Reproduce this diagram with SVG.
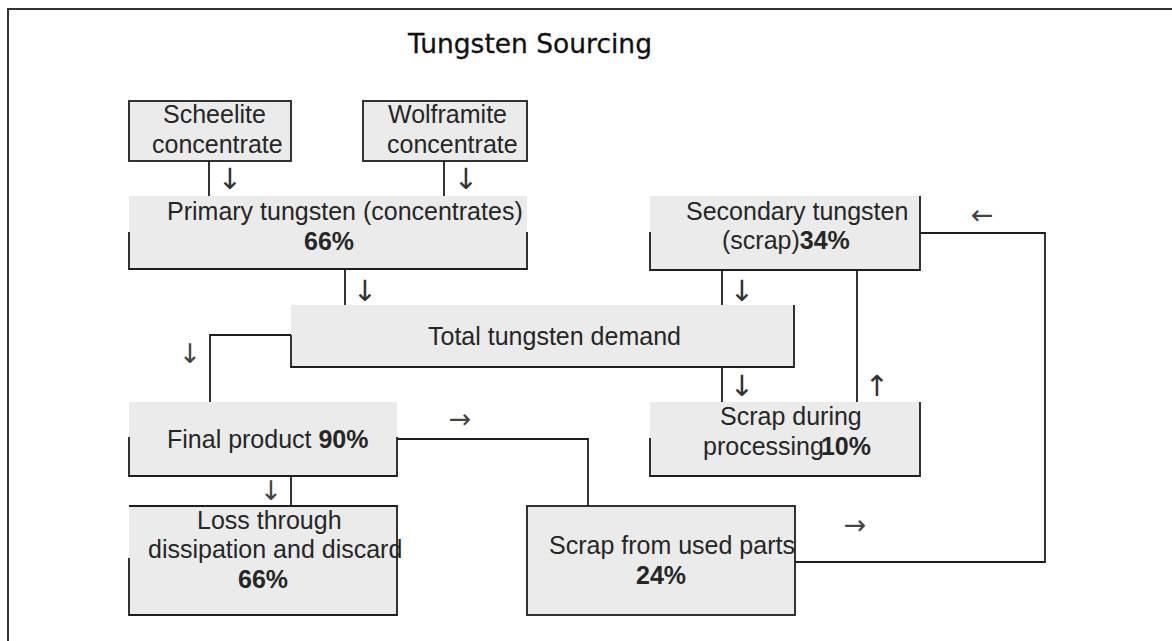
<svg xmlns="http://www.w3.org/2000/svg" width="1172" height="641" viewBox="0 0 1172 641">
<style>
.fill{fill:#ebebeb;stroke:none}
.full{fill:#ebebeb;stroke:#1e1e1e;stroke-width:1.8}
.b{fill:none;stroke:#1e1e1e;stroke-width:1.8}
.c{fill:none;stroke:#1e1e1e;stroke-width:1.8}
.t{font-family:"Liberation Sans",Arial,sans-serif;font-size:25px;fill:#262626}
.pct{font-weight:bold}
.ar{font-family:"DejaVu Sans",sans-serif;font-size:29px;fill:#333}
.ah{font-family:"DejaVu Sans",sans-serif;font-size:27px;fill:#444}
.title{font-family:"DejaVu Sans",sans-serif;font-size:26.5px;fill:#111;stroke:#111;stroke-width:0.3}
</style>
<rect width="1172" height="641" fill="#fff"/>
<path d="M8,641 V9 H1172" fill="none" stroke="#333" stroke-width="2"/>
<text class="title" x="408" y="53">Tungsten Sourcing</text>

<g id="connectors">
<path class="c" d="M209,161 V196"/>
<path class="c" d="M444,161 V196"/>
<path class="c" d="M345,269 V305"/>
<path class="c" d="M722,270 V305"/>
<path class="c" d="M722,367 V402"/>
<path class="c" d="M857,270 V402"/>
<path class="c" d="M291,335 H210 V402"/>
<path class="c" d="M291,476 V506"/>
<path class="c" d="M397,439 H588 V506"/>
<path class="c" d="M795,562 H1045 V233 H920"/>
<text class="ar" x="230" y="189" text-anchor="middle">↓</text>
<text class="ar" x="466" y="189" text-anchor="middle">↓</text>
<text class="ar" x="365" y="301" text-anchor="middle">↓</text>
<text class="ar" x="742" y="301" text-anchor="middle">↓</text>
<text class="ar" x="742" y="396" text-anchor="middle">↓</text>
<text class="ar" x="877" y="396" text-anchor="middle">↑</text>
<text class="ah" x="190" y="363" text-anchor="middle">↓</text>
<text class="ah" x="271" y="500" text-anchor="middle">↓</text>
<text class="ah" x="460" y="428" text-anchor="middle">→</text>
<text class="ah" x="982" y="224" text-anchor="middle">←</text>
<text class="ah" x="855" y="534" text-anchor="middle">→</text>
</g>

<g id="scheelite">
<rect class="full" x="129" y="101" width="162" height="60"/>
<text class="t" x="163" y="123">Scheelite</text>
<text class="t" x="152" y="153">concentrate</text>
</g>
<g id="wolframite">
<rect class="full" x="363" y="101" width="164" height="60"/>
<text class="t" x="388" y="123">Wolframite</text>
<text class="t" x="387" y="153">concentrate</text>
</g>
<g id="primary">
<rect class="fill" x="129" y="196" width="398" height="73"/>
<path class="b" d="M129,232 V269 H527 V232"/>
<text class="t" x="167" y="220">Primary tungsten (concentrates)</text>
<text class="t pct" x="304" y="250">66%</text>
</g>
<g id="secondary">
<rect class="fill" x="650" y="196" width="270" height="74"/>
<path class="b" d="M650,232 V270 H920 V196"/>
<text class="t" x="686" y="220">Secondary tungsten</text>
<text class="t" x="722" y="249">(scrap)<tspan class="pct">34%</tspan></text>
</g>
<g id="total">
<rect class="fill" x="291" y="305" width="503" height="62"/>
<path class="b" d="M291,335 V367 H794 V305"/>
<text class="t" x="428" y="345">Total tungsten demand</text>
</g>
<g id="final">
<rect class="fill" x="129" y="402" width="268" height="74"/>
<path class="b" d="M129,437 V476 H397 V437"/>
<text class="t" x="167" y="448">Final product <tspan class="pct">90%</tspan></text>
</g>
<g id="scrap-processing">
<rect class="fill" x="650" y="402" width="270" height="74"/>
<path class="b" d="M650,438 V476 H920 V402"/>
<text class="t" x="720" y="425">Scrap during</text>
<text class="t" x="703" y="455">processing<tspan class="pct" dx="-3">10%</tspan></text>
</g>
<g id="loss">
<rect class="fill" x="129" y="506" width="268" height="109"/>
<path class="b" d="M129,558 V615 H397 V506 H129"/>
<text class="t" x="197" y="529">Loss through</text>
<text class="t" x="148" y="558">dissipation and discard</text>
<text class="t pct" x="238" y="588">66%</text>
</g>
<g id="scrap-used">
<rect class="full" x="527" y="506" width="268" height="109"/>
<text class="t" x="549" y="554">Scrap from used parts</text>
<text class="t pct" x="636" y="584">24%</text>
</g>
</svg>
